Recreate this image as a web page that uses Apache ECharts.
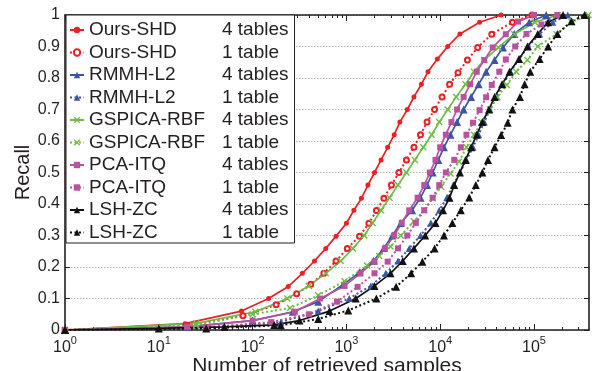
<!DOCTYPE html>
<html>
<head>
<meta charset="utf-8">
<script src="https://cdn.jsdelivr.net/npm/echarts@6/dist/echarts.min.js"></script>
<style>
  html, body { margin: 0; padding: 0; background: #fff; }
  #main { width: 603px; height: 371px; }
</style>
</head>
<body>
<div id="main"></div>
<script>
var FONT = 'Liberation Sans, Arial, Helvetica, sans-serif';
var INK = '#231F20';

// x axis: retrieved samples (log), y axis: recall
var xMin = 1;
var xMax = 386000;
var xTickExponents = [0, 1, 2, 3, 4, 5];

// Ours-SHD, 4 tables
var oursShd4X = [1, 19, 76, 148, 240, 339, 457, 603, 776, 1000, 1202, 1445, 1698, 1995, 2344, 2754, 3236, 3715, 4467, 5248, 6310, 7413, 9333, 12023, 16218, 26303, 44668];
var oursShd4Y = [0, 0.02, 0.06, 0.10, 0.138, 0.18, 0.219, 0.259, 0.298, 0.339, 0.38, 0.418, 0.46, 0.50, 0.54, 0.58, 0.62, 0.66, 0.70, 0.74, 0.78, 0.82, 0.86, 0.90, 0.94, 0.977, 1.0];
// Ours-SHD, 1 table
var oursShd1X = [1, 20, 79, 178, 295, 417, 575, 776, 1023, 1380, 1738, 2089, 2512, 3020, 3631, 4365, 5248, 6166, 7244, 8710, 10471, 12589, 15488, 19498, 25119, 35481, 58884, 95499];
var oursShd1Y = [0, 0.015, 0.045, 0.08, 0.115, 0.145, 0.18, 0.219, 0.259, 0.298, 0.339, 0.379, 0.418, 0.46, 0.50, 0.54, 0.58, 0.62, 0.66, 0.70, 0.74, 0.78, 0.817, 0.857, 0.897, 0.939, 0.977, 1.0];
// RMMH-L2, 4 tables
var rmmh4X = [1, 20, 100, 269, 501, 933, 1380, 1950, 2512, 3090, 3802, 5012, 6166, 7244, 8318, 9550, 10965, 12882, 15136, 17783, 21380, 25704, 30903, 38019, 46774, 61660, 89125, 134896];
var rmmh4Y = [0, 0.01, 0.03, 0.058, 0.09, 0.145, 0.183, 0.22, 0.26, 0.30, 0.34, 0.38, 0.42, 0.46, 0.50, 0.54, 0.58, 0.62, 0.66, 0.70, 0.74, 0.78, 0.82, 0.857, 0.897, 0.94, 0.977, 1.0];
// RMMH-L2, 1 table
var rmmh1X = [1, 32, 200, 501, 1072, 1820, 2630, 3548, 4677, 6166, 7943, 9772, 11749, 13804, 16218, 19055, 22387, 25704, 29512, 33884, 39811, 46774, 56234, 69183, 87096, 114815, 158489, 229087];
var rmmh1Y = [0, 0.008, 0.025, 0.06, 0.10, 0.14, 0.18, 0.219, 0.259, 0.30, 0.34, 0.38, 0.42, 0.46, 0.50, 0.54, 0.58, 0.62, 0.66, 0.70, 0.74, 0.78, 0.82, 0.86, 0.90, 0.94, 0.977, 1.0];
// GSPICA-RBF, 4 tables
var gspica4X = [1, 25, 107, 234, 398, 603, 871, 1175, 1549, 1905, 2344, 2884, 3548, 4365, 5370, 6607, 8128, 9772, 12023, 14791, 18621, 22909, 29512, 41687, 61660, 102329, 177828];
var gspica4Y = [0, 0.021, 0.058, 0.10, 0.14, 0.18, 0.219, 0.259, 0.30, 0.34, 0.38, 0.42, 0.46, 0.50, 0.54, 0.58, 0.62, 0.66, 0.70, 0.74, 0.78, 0.82, 0.857, 0.897, 0.939, 0.977, 1.0];
// GSPICA-RBF, 1 table
var gspica1X = [1, 25, 100, 251, 501, 955, 1660, 2239, 2951, 3802, 5248, 6761, 8318, 10233, 12882, 15849, 19055, 22909, 27542, 33884, 40738, 51286, 64565, 85114, 109648, 173780, 251189, 380189];
var gspica1Y = [0, 0.015, 0.05, 0.07, 0.11, 0.155, 0.205, 0.235, 0.265, 0.30, 0.345, 0.38, 0.418, 0.455, 0.497, 0.534, 0.58, 0.62, 0.66, 0.70, 0.74, 0.778, 0.82, 0.857, 0.90, 0.939, 0.977, 1.0];
// PCA-ITQ, 4 tables
var pcaItq4X = [1, 20, 100, 282, 525, 955, 1413, 1995, 2570, 3236, 3890, 4677, 5754, 6761, 7762, 8913, 10000, 11482, 13183, 15136, 17783, 20893, 24547, 29512, 36308, 50119, 67608, 100000];
var pcaItq4Y = [0, 0.01, 0.03, 0.058, 0.10, 0.14, 0.18, 0.217, 0.259, 0.30, 0.34, 0.38, 0.42, 0.46, 0.50, 0.54, 0.58, 0.62, 0.66, 0.70, 0.74, 0.78, 0.82, 0.857, 0.897, 0.939, 0.979, 1.0];
// PCA-ITQ, 1 table
var pcaItq1X = [1, 32, 158, 398, 794, 1318, 1995, 2754, 3548, 4467, 5495, 6761, 8318, 9772, 11482, 14125, 16596, 19055, 22387, 26303, 30903, 35481, 42658, 50119, 63096, 83176, 120226, 177828];
var pcaItq1Y = [0, 0.008, 0.025, 0.05, 0.09, 0.137, 0.18, 0.217, 0.259, 0.30, 0.34, 0.38, 0.42, 0.46, 0.50, 0.54, 0.58, 0.62, 0.658, 0.698, 0.739, 0.778, 0.82, 0.859, 0.90, 0.94, 0.97, 1.0];
// LSH-ZC, 4 tables
var lsh4X = [1, 10, 50, 170, 316, 661, 1259, 1995, 2951, 3981, 5248, 6918, 8913, 10715, 12589, 14125, 16218, 18621, 21380, 24547, 28184, 33113, 38019, 45709, 54954, 69183, 85114, 109648, 141254, 204174];
var lsh4Y = [0, 0.005, 0.01, 0.016, 0.03, 0.06, 0.10, 0.14, 0.18, 0.219, 0.259, 0.30, 0.34, 0.38, 0.42, 0.46, 0.50, 0.54, 0.58, 0.62, 0.66, 0.70, 0.74, 0.78, 0.82, 0.86, 0.90, 0.94, 0.977, 1.0];
// LSH-ZC, 1 table
var lsh1X = [1, 32, 200, 501, 1047, 2089, 3388, 4898, 6457, 8710, 10965, 13490, 16596, 20417, 23988, 28184, 32359, 38019, 44668, 52481, 58884, 70795, 79433, 91201, 114815, 141254, 177828, 251189, 346737];
var lsh1Y = [0, 0.005, 0.015, 0.035, 0.062, 0.10, 0.137, 0.18, 0.217, 0.259, 0.30, 0.34, 0.38, 0.421, 0.46, 0.50, 0.54, 0.58, 0.619, 0.658, 0.70, 0.74, 0.78, 0.82, 0.86, 0.90, 0.94, 0.98, 1.0];

var RED = '#ED1F24', BLUE = '#3B55A5', GREEN = '#6CBD45', MAGENTA = '#BA519F', BLACK = '#111111';
var CROSS = 'path://M0,1.4L1.4,0L5,3.6L8.6,0L10,1.4L6.4,5L10,8.6L8.6,10L5,6.4L1.4,10L0,8.6L3.6,5Z';

function makeSeries(name, xs, ys, color, symbol, size, dotted) {
    var pts = [];
    for (var i = 0; i < xs.length; i++) pts.push([xs[i], ys[i]]);
    return {
        name: name,
        type: 'line',
        data: pts,
        xAxisIndex: 0,
        yAxisIndex: 0,
        symbol: symbol,
        symbolSize: size,
        showAllSymbol: true,
        color: color,
        itemStyle: symbol === 'emptyCircle' ? { color: color, borderColor: color, borderWidth: 1.5 } : { color: color },
        lineStyle: { color: color, width: dotted ? 2 : 1.7, type: dotted ? [2, 2.5] : 'solid' },
        emphasis: { disabled: true }
    };
}

var series = [
    makeSeries('Ours-SHD|4 tables', oursShd4X, oursShd4Y, RED, 'circle', 5, false),
    makeSeries('Ours-SHD|1 table', oursShd1X, oursShd1Y, RED, 'emptyCircle', 5, true),
    makeSeries('RMMH-L2|4 tables', rmmh4X, rmmh4Y, BLUE, 'triangle', 8, false),
    makeSeries('RMMH-L2|1 table', rmmh1X, rmmh1Y, BLUE, 'triangle', 7, true),
    makeSeries('GSPICA-RBF|4 tables', gspica4X, gspica4Y, GREEN, CROSS, 7, false),
    makeSeries('GSPICA-RBF|1 table', gspica1X, gspica1Y, GREEN, CROSS, 7, true),
    makeSeries('PCA-ITQ|4 tables', pcaItq4X, pcaItq4Y, MAGENTA, 'rect', 6, false),
    makeSeries('PCA-ITQ|1 table', pcaItq1X, pcaItq1Y, MAGENTA, 'rect', 6, true),
    makeSeries('LSH-ZC|4 tables', lsh4X, lsh4Y, BLACK, 'triangle', 8, false),
    makeSeries('LSH-ZC|1 table', lsh1X, lsh1Y, BLACK, 'triangle', 8, true)
];

var minorTicks = [];
for (var e = 0; e <= 5; e++) {
    for (var m = 2; m <= 9; m++) {
        if (m * Math.pow(10, e) < xMax) minorTicks.push(m * Math.pow(10, e));
    }
}
var majorTicks = xTickExponents.map(function (k) { return Math.pow(10, k); });

function logAxis(pos, major, withLabels) {
    var ax = {
        type: 'log',
        logBase: 10,
        min: xMin,
        max: xMax,
        position: pos,
        gridIndex: 0,
        axisLine: { show: major, lineStyle: { color: INK, width: 1.6 } },
        axisTick: { show: true, inside: true, length: major ? 6 : 3, lineStyle: { color: INK, width: 1 },
                    customValues: major ? majorTicks : minorTicks },
        axisLabel: { show: false },
        splitLine: { show: false }
    };
    if (withLabels) {
        ax.axisLabel = {
            show: true,
            margin: 2,
            customValues: majorTicks,
            formatter: function (v) {
                var k = Math.round(Math.log(v) / Math.LN10);
                return '{b|10}{e|' + k + '}';
            },
            rich: {
                b: { fontSize: 16, fontFamily: FONT, color: INK, padding: [8, 0, 0, 0] },
                e: { fontSize: 11, fontFamily: FONT, color: INK, padding: [0, 0, 6, 0] }
            }
        };
        ax.name = 'Number of retrieved samples';
        ax.nameLocation = 'middle';
        ax.nameGap = 26;
        ax.nameMoveOverlap = false;
        ax.nameTextStyle = { fontSize: 21, fontFamily: FONT, color: INK, verticalAlign: 'top' };
    }
    return ax;
}

function valAxis(pos, withLabels) {
    var ax = {
        type: 'value',
        min: 0,
        max: 1,
        interval: 0.1,
        position: pos,
        gridIndex: 0,
        axisLine: { show: true, lineStyle: { color: INK, width: 1.6 } },
        axisTick: { show: true, inside: true, length: 5, lineStyle: { color: INK, width: 1 } },
        axisLabel: { show: withLabels, margin: 5, fontSize: 16, fontFamily: FONT, color: INK },
        splitLine: { show: withLabels, lineStyle: { color: '#b4b4b4', width: 1, type: [1.5, 1.5] } }
    };
    if (withLabels) {
        ax.name = 'Recall';
        ax.nameLocation = 'middle';
        ax.nameGap = 32;
        ax.nameMoveOverlap = false;
        ax.nameTextStyle = { fontSize: 20, fontFamily: FONT, color: INK };
    }
    return ax;
}

var myChart = echarts.init(document.getElementById('main'), null, { renderer: 'canvas' });

var option = {
    backgroundColor: '#fff',
    animation: false,
    grid: { left: 65, right: 14, top: 15, bottom: 41, containLabel: false, outerBoundsMode: 'none' },
    xAxis: [
        logAxis('bottom', true, true),
        logAxis('bottom', false, false),
        logAxis('top', true, false),
        logAxis('top', false, false)
    ],
    yAxis: [valAxis('left', true), valAxis('right', false)],
    legend: {
        orient: 'vertical',
        left: 66,
        top: 15,
        padding: [5.5, 6, 1, 3],
        itemGap: 3.5,
        itemWidth: 14,
        itemHeight: 8,
        backgroundColor: '#fff',
        borderColor: INK,
        borderWidth: 1,
        borderRadius: 0,
        data: series.map(function (s) { return s.name; }),
        formatter: function (name) {
            var p = name.split('|');
            return '{n|' + p[0] + '}{t|' + p[1] + '}';
        },
        textStyle: {
            rich: {
                n: { width: 133, fontSize: 19, lineHeight: 20, fontFamily: FONT, color: INK },
                t: { fontSize: 19, lineHeight: 20, fontFamily: FONT, color: INK }
            }
        },
        selectedMode: false
    },
    series: series
};

myChart.setOption(option);
</script>
</body>
</html>
